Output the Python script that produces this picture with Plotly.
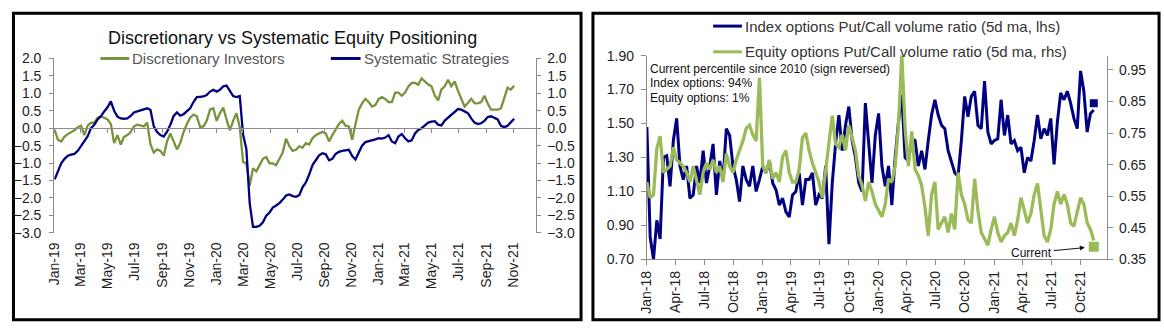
import plotly.graph_objects as go
import pandas as pd

W, H = 1164, 335

# ---------------- Left chart data (Jan-2019 .. early Nov-2021) ----------------
left_start, left_end, left_n = "2019-01-01", "2021-11-03", 140
discretionary = [
    -0.05, -0.33, -0.38, -0.24, -0.17, -0.11, -0.06, 0.03, 0.07, -0.20,
    0.07, 0.16, 0.15, 0.30, 0.34, 0.30, 0.25, 0.12, -0.43, -0.20,
    -0.47, -0.25, -0.20, -0.11, 0.05, 0.10, 0.08, 0.05, 0.16, -0.47,
    -0.70, -0.61, -0.65, -0.79, -0.38, -0.15, -0.38, -0.61, -0.43, -0.11,
    0.12, 0.30, 0.39, 0.34, 0.03, 0.05, 0.21, 0.53, 0.57, 0.21,
    0.43, 0.59, 0.25, -0.06, 0.21, 0.43, 0.03, -0.97, -1.01, -1.65,
    -1.15, -1.24, -1.06, -0.88, -0.83, -1.01, -1.01, -1.06, -0.88, -0.70,
    -0.30,
    -0.52, -0.65, -0.62, -0.52, -0.56, -0.43, -0.47, -0.29, -0.20, -0.15,
    -0.11, -0.15, -0.38, -0.20, -0.02, 0.12, 0.21, 0.07, 0.05, -0.33,
    0.12, 0.53, 0.71, 0.84, 0.75, 0.62, 0.66, 0.84, 0.89, 0.84,
    0.75, 0.75, 1.02, 1.02, 0.93, 1.02, 1.20, 1.30, 1.30, 1.25,
    1.43, 1.35, 1.25, 1.20, 0.93, 0.80, 1.11, 1.20, 1.39, 1.20,
    1.34, 1.07, 0.84, 0.62, 0.72, 0.84, 0.72, 0.71, 0.75, 0.93,
    0.71, 0.53, 0.53, 0.53, 0.57, 0.89, 1.16, 1.11, 1.22,
]
systematic = [
    -1.47, -1.24, -1.01, -0.88, -0.79, -0.76, -0.74, -0.65, -0.52, -0.38,
    -0.23, 0.00, 0.10, 0.25, 0.34, 0.48, 0.60, 0.77, 0.50, 0.33,
    0.28, 0.27, 0.28, 0.35, 0.45, 0.48, 0.51, 0.55, 0.57, 0.52,
    0.05, -0.11, -0.20, -0.24, -0.10, 0.10, 0.35, 0.45, 0.36, 0.40,
    0.50, 0.57, 0.75, 0.89, 0.90, 0.91, 0.95, 1.05, 1.10, 1.05,
    1.10, 1.20, 1.22, 1.05, 0.92, 0.89, 0.92, -0.18, -0.60, -2.15,
    -2.83, -2.83, -2.80, -2.70, -2.51, -2.42, -2.28, -2.22, -2.15, -2.05,
    -1.93,
    -1.90, -1.95, -1.97, -1.92, -1.69, -1.56, -1.33, -1.06, -0.92, -0.78,
    -0.72, -0.75, -0.92, -0.88, -0.74, -0.68, -0.65, -0.63, -0.62, -0.80,
    -0.90, -0.70, -0.50, -0.40, -0.38, -0.35, -0.32, -0.29, -0.30, -0.27,
    -0.20, -0.38, -0.43, -0.24, -0.17, -0.29, -0.38, -0.35, -0.15, -0.05,
    0.00, 0.08, 0.16, 0.19, 0.20, 0.10, 0.08, 0.22, 0.30, 0.38,
    0.48, 0.55, 0.53, 0.48, 0.43, 0.28, 0.16, 0.12, 0.14, 0.21,
    0.32, 0.34, 0.30, 0.25, 0.07, 0.03, 0.07, 0.16, 0.27,
]

# ---------------- Right chart data (Jan-2018 .. mid Nov-2021) ----------------
right_start, right_end, right_n = "2018-01-01", "2021-11-12", 136
index_pc = [
    1.48, 0.83, 0.70, 0.93, 0.82, 1.30, 1.31, 1.13, 1.40, 1.53,
    1.25, 1.17, 1.25, 1.06, 1.08, 1.25, 1.15, 1.34, 1.15, 1.25,
    1.38, 1.08, 1.28, 1.17, 1.47, 1.43, 1.25, 1.17, 1.04, 1.25,
    1.17, 1.13, 1.25, 1.10, 1.17, 1.25, 1.21, 1.28, 1.15, 1.11,
    1.02, 1.06, 0.98, 0.95, 1.08,
    1.10, 1.21, 1.02, 1.17, 1.17, 1.21, 1.02, 1.08, 1.06, 1.25,
    0.79, 1.15, 1.38, 1.55, 1.34, 1.49, 1.60, 1.40, 1.30, 1.15,
    1.10, 1.62, 1.40, 1.15, 1.43, 1.56, 1.25, 1.13, 1.25, 1.02,
    1.30, 1.51, 1.67, 1.30, 1.28, 1.41, 1.40, 1.25, 1.34, 1.23,
    1.40, 1.55, 1.64, 1.55, 1.49,
    1.47, 1.34, 1.28, 1.21, 1.19, 1.40, 1.66, 1.54, 1.66, 1.69,
    1.49, 1.47, 1.75, 1.45, 1.38, 1.40, 1.41, 1.64, 1.43, 1.55,
    1.38, 1.40, 1.34, 1.36, 1.21, 1.30, 1.28, 1.40, 1.55, 1.41,
    1.47, 1.43, 1.53, 1.26, 1.51, 1.68, 1.64, 1.69, 1.62, 1.53,
    1.47, 1.81, 1.69, 1.45, 1.56, 1.58,
]
equity_pc = [
    0.595, 0.545, 0.555, 0.700, 0.740, 0.625, 0.635, 0.645, 0.705, 0.665,
    0.655, 0.645, 0.625, 0.595, 0.645, 0.605, 0.555, 0.625, 0.655, 0.635,
    0.665, 0.625, 0.645, 0.595, 0.685, 0.645, 0.625, 0.665, 0.695, 0.725,
    0.765, 0.775, 0.745, 0.725, 0.925, 0.645, 0.625, 0.665, 0.605, 0.625,
    0.595, 0.675, 0.695, 0.625, 0.595,
    0.595, 0.635, 0.735, 0.750, 0.695, 0.655, 0.625, 0.595, 0.545, 0.625,
    0.725, 0.805, 0.715, 0.705, 0.745, 0.695, 0.775, 0.735, 0.695, 0.615,
    0.585, 0.535, 0.595, 0.565, 0.525, 0.505, 0.485, 0.525, 0.605, 0.595,
    0.645, 0.775, 1.000, 0.765, 0.645, 0.755, 0.635, 0.615, 0.585, 0.515,
    0.425, 0.555, 0.595, 0.445, 0.465,
    0.485, 0.435, 0.495, 0.445, 0.625, 0.555, 0.525, 0.475, 0.465, 0.605,
    0.505, 0.435, 0.415, 0.395, 0.445, 0.485, 0.435, 0.405, 0.425, 0.435,
    0.465, 0.425, 0.475, 0.545, 0.505, 0.465, 0.495, 0.555, 0.590, 0.505,
    0.425, 0.405, 0.445, 0.525, 0.565, 0.525, 0.555, 0.525, 0.465, 0.455,
    0.505, 0.545, 0.525, 0.465, 0.445, 0.410,
]
current_date = ["2021-11-12"]
current_index = [1.62]
current_equity = [0.39]

left_dates = pd.date_range(left_start, left_end, periods=left_n)
right_dates = pd.date_range(right_start, right_end, periods=right_n)

# ---------------- styling helpers ----------------
def fx(px):
    return px / W


def fy(py):
    return 1 - py / H


NAVY = "#000080"
GREEN_L = "#77933C"
GREEN_R = "#9BBB59"
AXC = "#8c8c8c"
TICKC = "#1e1e1e"
FONT = "Liberation Sans, Arial, sans-serif"

fig = go.Figure()

# left chart traces
fig.add_trace(go.Scatter(x=left_dates, y=discretionary, mode="lines", xaxis="x", yaxis="y",
                         line=dict(color=GREEN_L, width=2.3), name="Discretionary Investors"))
fig.add_trace(go.Scatter(x=left_dates, y=systematic, mode="lines", xaxis="x", yaxis="y",
                         line=dict(color=NAVY, width=2.3), name="Systematic Strategies"))
# axis helpers (empty)
fig.add_trace(go.Scatter(x=[], y=[], xaxis="x2", yaxis="y", showlegend=False))
fig.add_trace(go.Scatter(x=[], y=[], xaxis="x", yaxis="y2", showlegend=False))

# right chart traces
fig.add_trace(go.Scatter(x=right_dates, y=index_pc, mode="lines", xaxis="x3", yaxis="y3",
                         line=dict(color=NAVY, width=3), name="Index options"))
fig.add_trace(go.Scatter(x=current_date, y=current_index, mode="markers", xaxis="x3", yaxis="y3",
                         marker=dict(symbol="square", size=8, color=NAVY)))
fig.add_trace(go.Scatter(x=right_dates, y=equity_pc, mode="lines", xaxis="x3", yaxis="y4",
                         line=dict(color=GREEN_R, width=3.3), name="Equity options"))
fig.add_trace(go.Scatter(x=current_date, y=current_equity, mode="markers", xaxis="x3", yaxis="y4",
                         marker=dict(symbol="square", size=10, color=GREEN_R)))

tick_font = dict(family=FONT, size=14, color=TICKC)

# left chart geometry (pixels)
LX0, LX1, LY0, LY1 = 46.5, 532, 53, 236
l_range = ["2018-12-31", "2021-12-23"]
zero_py = LY0 + (LY1 - LY0) * (2 / 5)

# right chart geometry
RX0, RX1, RY0, RY1 = 643.3, 1106.7, 50, 264
r_range = ["2018-01-01", "2021-12-24"]

fig.update_layout(
    width=W, height=H, margin=dict(l=0, r=0, t=0, b=0),
    paper_bgcolor="white", plot_bgcolor="rgba(0,0,0,0)", showlegend=False,
    font=dict(family=FONT),
    xaxis=dict(domain=[fx(LX0), fx(LX1)], anchor="y", range=l_range, type="date",
               tick0="2019-01-01", dtick="M2", tickformat="%b-%y", tickangle=-90,
               showline=False, ticks="", showgrid=False, zeroline=False,
               tickfont=tick_font, ticklabelstandoff=6),
    xaxis2=dict(overlaying="x", anchor="free", position=fy(zero_py), range=l_range, type="date",
                tick0="2019-01-01", dtick="M2", showticklabels=False, showline=True,
                linecolor=AXC, linewidth=1, ticks="outside", ticklen=4, tickcolor=AXC,
                showgrid=False, zeroline=False),
    yaxis=dict(domain=[fy(LY1), fy(LY0)], anchor="x", range=[-3, 2], dtick=0.5, tick0=0,
               tickformat=".1f", showline=True, linecolor=AXC, ticks="outside", ticklen=4,
               tickcolor=AXC, showgrid=False, zeroline=False, tickfont=tick_font,
               ticklabelstandoff=5),
    yaxis2=dict(overlaying="y", anchor="x", side="right", range=[-3, 2], dtick=0.5, tick0=0,
                tickformat=".1f", showline=True, linecolor=AXC, ticks="outside", ticklen=4,
                tickcolor=AXC, showgrid=False, zeroline=False, tickfont=tick_font,
                ticklabelstandoff=3),
    xaxis3=dict(domain=[fx(RX0), fx(RX1)], anchor="y3", range=r_range, type="date",
                tick0="2018-01-01", dtick="M3", tickformat="%b-%y", tickangle=-90,
                showline=True, linecolor=AXC, ticks="outside", ticklen=5, tickcolor=AXC,
                showgrid=False, zeroline=False, tickfont=tick_font),
    yaxis3=dict(domain=[fy(RY1), fy(RY0)], anchor="x3", range=[0.7, 1.9], dtick=0.2, tick0=0.7,
                tickformat=".2f", showline=True, linecolor=AXC, ticks="outside", ticklen=5,
                tickcolor=AXC, showgrid=False, zeroline=False, tickfont=tick_font,
                ticklabelstandoff=4),
    yaxis4=dict(overlaying="y3", anchor="x3", side="right", range=[0.35, 0.995], dtick=0.1,
                tick0=0.35, tickformat=".2f", showline=True, linecolor=AXC, ticks="outside",
                ticklen=5, tickcolor=AXC, showgrid=False, zeroline=False, tickfont=tick_font,
                ticklabelstandoff=3),
)

shapes = [
    # panel borders
    dict(type="rect", xref="paper", yref="paper", x0=fx(5.5), x1=fx(577), y0=fy(327.5), y1=fy(5.5),
         line=dict(color="black", width=3)),
    dict(type="rect", xref="paper", yref="paper", x0=fx(589), x1=fx(1159), y0=fy(327.5), y1=fy(5.5),
         line=dict(color="black", width=3)),
    # legend samples
    dict(type="line", xref="paper", yref="paper", x0=fx(93), x1=fx(122), y0=fy(53), y1=fy(53),
         line=dict(color=GREEN_L, width=3)),
    dict(type="line", xref="paper", yref="paper", x0=fx(325), x1=fx(355), y0=fy(53), y1=fy(53),
         line=dict(color=NAVY, width=3)),
    dict(type="line", xref="paper", yref="paper", x0=fx(710), x1=fx(739), y0=fy(19), y1=fy(19),
         line=dict(color=NAVY, width=3)),
    dict(type="line", xref="paper", yref="paper", x0=fx(710), x1=fx(739), y0=fy(46), y1=fy(46),
         line=dict(color=GREEN_R, width=3)),
]
fig.update_layout(shapes=shapes)

LEG = "#555555"
ann = [
    dict(text="Discretionary vs Systematic Equity Positioning", x=fx(286), y=fy(31),
         xanchor="center", yanchor="middle", font=dict(family=FONT, size=18, color="#111111")),
    dict(text="Discretionary Investors", x=fx(123), y=fy(53), xanchor="left", yanchor="middle",
         font=dict(family=FONT, size=15, color=LEG)),
    dict(text="Systematic Strategies", x=fx(356), y=fy(53), xanchor="left", yanchor="middle",
         font=dict(family=FONT, size=15, color=LEG)),
    dict(text="Index options Put/Call volume ratio (5d ma, lhs)", x=fx(740), y=fy(19),
         xanchor="left", yanchor="middle", font=dict(family=FONT, size=15, color="#333333")),
    dict(text="Equity options Put/Call volume ratio (5d ma, rhs)", x=fx(740), y=fy(46),
         xanchor="left", yanchor="middle", font=dict(family=FONT, size=15, color="#333333")),
    dict(text="Current percentile since 2010 (sign reversed)", x=fx(644), y=fy(64),
         xanchor="left", yanchor="middle", font=dict(family=FONT, size=12, color="#111111")),
    dict(text="Index options: 94%", x=fx(644), y=fy(79), xanchor="left", yanchor="middle",
         font=dict(family=FONT, size=12, color="#111111")),
    dict(text="Equity options: 1%", x=fx(644), y=fy(94), xanchor="left", yanchor="middle",
         font=dict(family=FONT, size=12, color="#111111")),
]
for a in ann:
    a.update(xref="paper", yref="paper", showarrow=False)
ann.append(dict(text="Current", xref="x3", yref="y4", x=current_date[0], y=current_equity[0],
                ax=-62, ay=6, showarrow=True, arrowhead=2, arrowsize=1, arrowwidth=1,
                arrowcolor="#111111", standoff=9, font=dict(family=FONT, size=12, color="#111111")))
fig.update_layout(annotations=ann)

fig.write_html("out.html")
